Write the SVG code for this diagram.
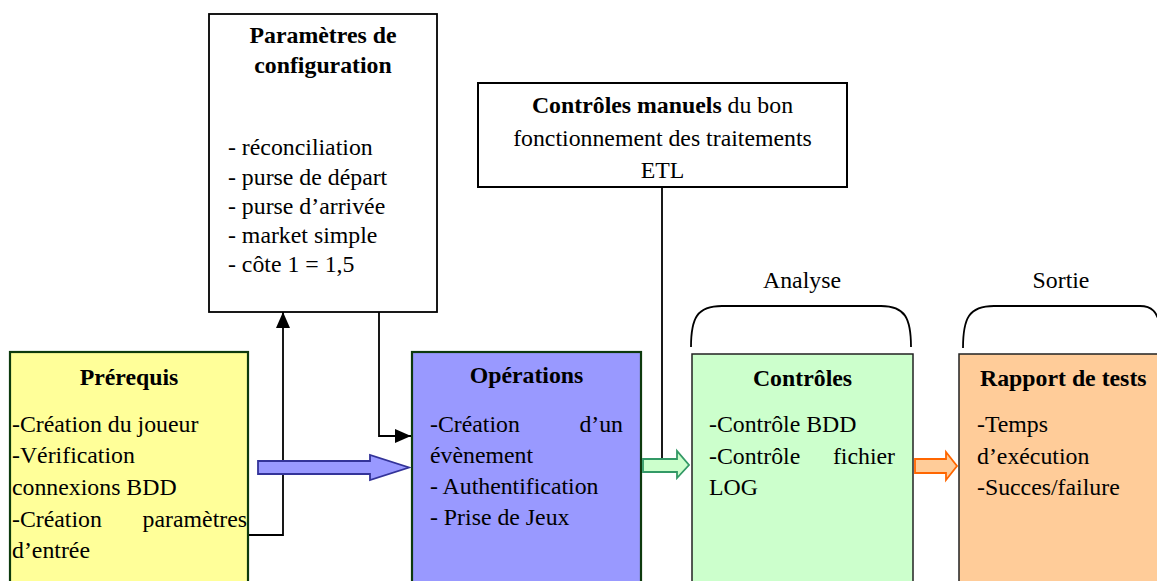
<svg xmlns="http://www.w3.org/2000/svg" width="1157" height="581" viewBox="0 0 1157 581">
<style>
text{font-family:"Liberation Serif","Times New Roman",serif;font-size:23.8px;fill:#000}
.b{font-weight:bold}
.c{text-anchor:middle}
.e{text-anchor:end}
.ln{fill:none;stroke:#000;stroke-width:1.8}
</style>
<defs>
<marker id="ah" markerUnits="userSpaceOnUse" viewBox="0 0 16 14" markerWidth="16" markerHeight="14" refX="16" refY="7" orient="auto">
<path d="M0,0 L16,7 L0,14 z" fill="#000"/>
</marker>
</defs>
<rect width="1157" height="581" fill="#fff"/>

<g id="config">
<rect x="209" y="14" width="228" height="298" fill="#fff" stroke="#000" stroke-width="1.8"/>
<text class="b c" x="323" y="43">Paramètres de</text>
<text class="b c" x="323" y="73">configuration</text>
<text x="228" y="155">- réconciliation</text>
<text x="228" y="185">- purse de départ</text>
<text x="228" y="214">- purse d’arrivée</text>
<text x="228" y="243">- market simple</text>
<text x="228" y="272">- côte 1 = 1,5</text>
</g>

<g id="manuels">
<rect x="478" y="83" width="369" height="104" fill="#fff" stroke="#000" stroke-width="2"/>
<text class="c" x="662.5" y="113"><tspan class="b">Contrôles manuels</tspan> du bon</text>
<text class="c" x="662.5" y="146">fonctionnement des traitements</text>
<text class="c" x="662.5" y="178">ETL</text>
</g>

<g id="analyse">
<text class="c" x="802" y="288">Analyse</text>
<path class="ln" d="M691,347 C691,318 697,306 722,306 L881,306 C905,306 911,318 911,347"/>
</g>

<g id="sortie">
<text class="c" x="1061" y="288">Sortie</text>
<path class="ln" d="M963,348 C963,318 969,306 994,306 L1140,306 C1152,306 1157,312 1160,325"/>
</g>

<g id="prerequis">
<rect x="10" y="352" width="238" height="240" fill="#FFFF99" stroke="#0d3a0d" stroke-width="2.2"/>
<text class="b c" x="129" y="385">Prérequis</text>
<text x="12" y="432">-Création du joueur</text>
<text x="12" y="463">-Vérification</text>
<text x="12" y="495">connexions BDD</text>
<text x="12" y="527">-Création</text>
<text class="e" x="247" y="527">paramètres</text>
<text x="12" y="558">d’entrée</text>
</g>

<g id="operations">
<rect x="412" y="352" width="229" height="240" fill="#9999FF" stroke="#0d3a0d" stroke-width="2.2"/>
<text class="b c" x="526.5" y="383">Opérations</text>
<text x="430" y="432">-Création</text>
<text class="e" x="623" y="432">d’un</text>
<text x="430" y="463">évènement</text>
<text x="430" y="494">- Authentification</text>
<text x="430" y="525">- Prise de Jeux</text>
</g>

<g id="controles">
<rect x="692" y="354" width="221" height="240" fill="#CCFFCC" stroke="#222" stroke-width="1.5"/>
<text class="b c" x="802.5" y="386">Contrôles</text>
<text x="709" y="432">-Contrôle BDD</text>
<text x="709" y="464">-Contrôle</text>
<text class="e" x="895" y="464">fichier</text>
<text x="709" y="495">LOG</text>
</g>

<g id="rapport">
<rect x="959" y="354" width="210" height="240" fill="#FFCC99" stroke="#222" stroke-width="1.5"/>
<text class="b" x="980" y="386">Rapport de tests</text>
<text x="977" y="432">-Temps</text>
<text x="977" y="464">d’exécution</text>
<text x="977" y="495">-Succes/failure</text>
</g>

<g id="connectors">
<path class="ln" d="M249,535 L283,535 L283,312" marker-end="url(#ah)"/>
<path class="ln" d="M379,312 L379,436 L411,436" marker-end="url(#ah)"/>
<path class="ln" d="M662,187 L662,458"/>
<path d="M258,461 L370,461 L370,455 L409,467.5 L370,480 L370,474 L258,474 z" fill="#9999FF" stroke="#333399" stroke-width="1.8"/>
<path d="M643,459 L677,459 L677,451 L689,465 L677,478 L677,472 L643,472 z" fill="#CCFFCC" stroke="#339966" stroke-width="1.8"/>
<path d="M915,459 L946,459 L946,452 L957,466 L946,480 L946,473 L915,473 z" fill="#FFCC99" stroke="#FF6600" stroke-width="1.8"/>
</g>
</svg>
